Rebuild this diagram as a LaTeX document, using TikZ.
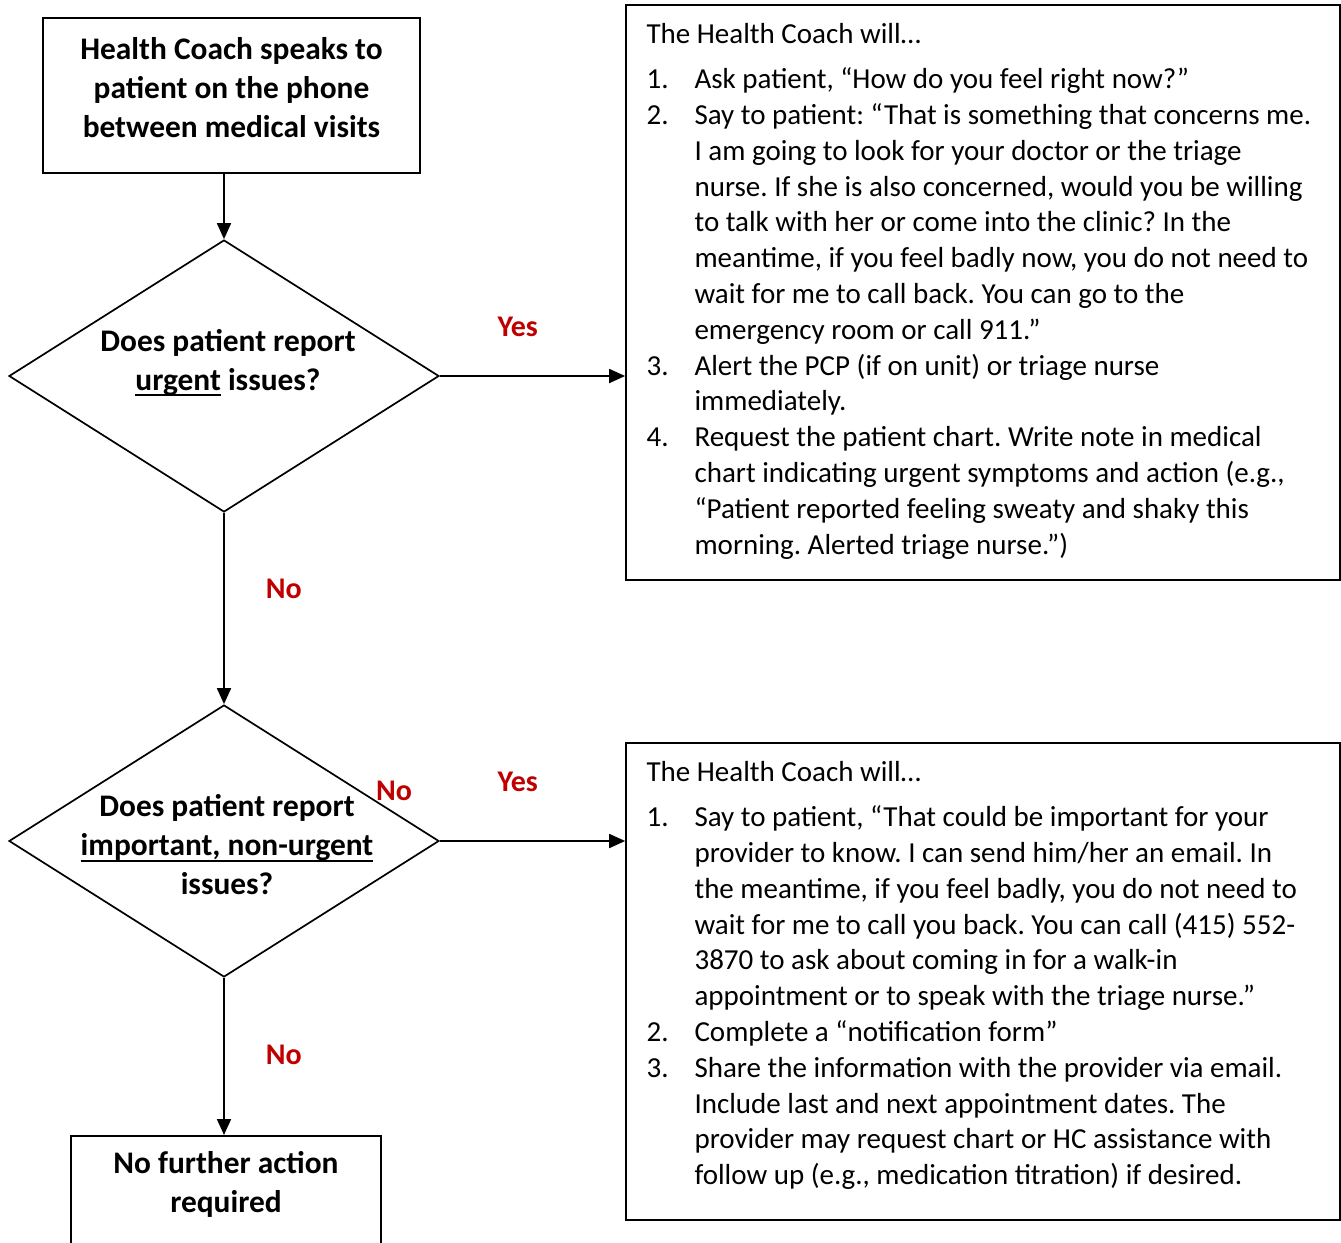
\documentclass[tikz,border=0pt]{standalone}
\usepackage{fontspec}
\setmainfont{Carlito}
\usetikzlibrary{positioning,shapes.geometric,arrows.meta}
\definecolor{answerred}{RGB}{192,0,0}
\newcommand{\hcul}[1]{\setbox0=\hbox{#1}\rlap{\rule[-2.9pt]{\wd0}{1.1pt}}\box0\relax}
\frenchspacing

\begin{document}
\begin{tikzpicture}[
  x=0.5pt, y=-0.5pt,
  every node/.style={inner sep=0pt},
  box/.style={rectangle, draw, line width=0.85pt},
  decision/.style={diamond, draw, line width=0.85pt, minimum width=215pt, minimum height=136pt},
  boldtext/.style={align=center, font=\bfseries\fontsize{15.7}{19.5}\selectfont},
  bodytext/.style={font=\fontsize{14.5}{17.9}\selectfont},
  answer/.style={text=answerred, font=\bfseries\fontsize{15}{18}\selectfont},
  flow/.style={draw, line width=0.9pt, -{Triangle[length=8pt,width=7pt]}}
]
\useasboundingbox (0,0) rectangle (1341,1243);
\clip (0,0) rectangle (1341,1243);

\node[box, minimum width=188.5pt, minimum height=77.5pt] (start) at (231.5,95.5) {};
\node[boldtext] at ([yshift=3.75pt]start.center) {Health Coach speaks to\\patient on the phone\\between medical visits};

\node[decision] (d1) at (224,376) {};
\node[boldtext] at ([xshift=2pt,yshift=6.5pt]d1.center) {Does patient report\\\hcul{urgent} issues?};

\node[decision] (d2) at (224,841) {};
\node[boldtext] at ([xshift=1.5pt,yshift=-2pt]d2.center) {Does patient report\\\hcul{important, non-urgent}\\issues?};

\node[box, minimum width=155pt, minimum height=70pt, anchor=north] (done) at (226,1135) {};
\node[boldtext] at ([yshift=-24.5pt]done.north) {No further action\\required};

\node[box, minimum width=357pt, minimum height=287.5pt] (urgent) at (983,292.5) {};
\node[bodytext, below right=7pt and 10.5pt of urgent.north west] {%
\begin{tabular}{@{}p{24pt}@{}l@{}}
\multicolumn{2}{@{}l}{The Health Coach will…}\\[4.6pt]
1. & Ask patient, “How do you feel right now?”\\
2. & Say to patient: “That is something that concerns me.\\
   & I am going to look for your doctor or the triage\\
   & nurse. If she is also concerned, would you be willing\\
   & to talk with her or come into the clinic? In the\\
   & meantime, if you feel badly now, you do not need to\\
   & wait for me to call back. You can go to the\\
   & emergency room or call 911.”\\
3. & Alert the PCP (if on unit) or triage nurse\\
   & immediately.\\
4. & Request the patient chart. Write note in medical\\
   & chart indicating urgent symptoms and action (e.g.,\\
   & “Patient reported feeling sweaty and shaky this\\
   & morning. Alerted triage nurse.”)
\end{tabular}};

\node[box, minimum width=357pt, minimum height=238.5pt] (nonurgent) at (983,981.5) {};
\node[bodytext, below right=7pt and 10.5pt of nonurgent.north west] {%
\begin{tabular}{@{}p{24pt}@{}l@{}}
\multicolumn{2}{@{}l}{The Health Coach will…}\\[4.6pt]
1. & Say to patient, “That could be important for your\\
   & provider to know. I can send him/her an email. In\\
   & the meantime, if you feel badly, you do not need to\\
   & wait for me to call you back. You can call (415) 552-\\
   & 3870 to ask about coming in for a walk-in\\
   & appointment or to speak with the triage nurse.”\\
2. & Complete a “notification form”\\
3. & Share the information with the provider via email.\\
   & Include last and next appointment dates. The\\
   & provider may request chart or HC assistance with\\
   & follow up (e.g., medication titration) if desired.
\end{tabular}};

\draw[flow] (d1.north |- start.south) -- (d1.north);
\draw[flow] (d1.east) -- node[answer, pos=0.42, above=19pt] {Yes} (d1.east -| urgent.west);
\draw[flow] (d1.south) -- node[answer, pos=0.4, right=20.5pt] {No} (d2.north);
\draw[flow] (d2.east) -- node[answer, pos=0.42, above=24pt] {Yes} (d2.east -| nonurgent.west);
\draw[flow] (d2.south) -- node[answer, pos=0.49, right=20.5pt] {No} (d2.south |- done.north);
\node[answer] (stray) at (394,791) {No};
\end{tikzpicture}
\end{document}
